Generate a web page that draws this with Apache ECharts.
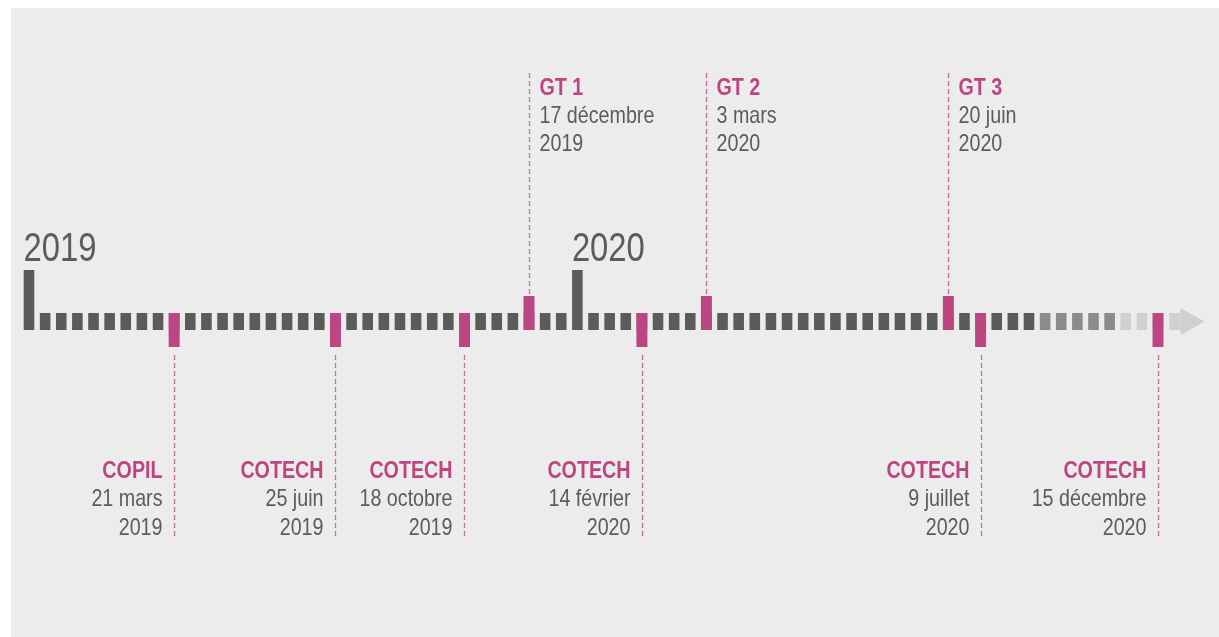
<!DOCTYPE html>
<html>
<head>
<meta charset="utf-8">
<script src="https://cdn.jsdelivr.net/npm/echarts@6/dist/echarts.min.js"></script>
<style>
html, body { margin: 0; padding: 0; background: #fff; }
#chart { position: absolute; left: 11px; top: 8px; width: 1208px; height: 629px; }
</style>
</head>
<body>
<div id="chart"></div>
<script>
// frise chronologique : une case par créneau (schématique, pas à l'échelle)
const slotCount = 71;
const years = ['2019', '2020'];
const yearSlots = [0, 34];
const fadeMidFrom = 63;
const fadeLightFrom = 68;
const arrowSlot = 71.4;

const eventTitles = ['COPIL', 'COTECH', 'COTECH', 'GT 1', 'COTECH', 'GT 2', 'GT 3', 'COTECH', 'COTECH'];
const eventDays = ['21 mars', '25 juin', '18 octobre', '17 décembre', '14 février', '3 mars', '20 juin', '9 juillet', '15 décembre'];
const eventYears = ['2019', '2019', '2019', '2019', '2020', '2020', '2020', '2020', '2020'];
const eventSlots = [9, 19, 27, 31, 38, 42, 57, 59, 70];
const eventAbove = [false, false, false, true, false, true, true, false, false];

// pas de police "narrow" installée : Liberation Sans compressée horizontalement
const FONT = '"Liberation Sans", Arial, sans-serif';
const NARROW = 0.82;
const PINK = '#bc4682';
const DARK = '#5b5b5b';
const MID = '#8b8b8b';
const LIGHT = '#d0d0d0';
const TEXT = '#5c5c5c';

const tickData = [];
for (let i = 0; i < slotCount; i++) {
    tickData.push([i, yearSlots.indexOf(i) >= 0 ? 1 : 0]);
}
tickData.push([arrowSlot, 2]);

const eventData = eventSlots.map((s, i) => [s, eventAbove[i] ? 1 : 0]);
const yearData = yearSlots.map((s) => [s, 0]);

function shadeOf(slot) {
    if (slot >= fadeLightFrom) return LIGHT;
    if (slot >= fadeMidFrom) return MID;
    return DARK;
}

function narrowText(text, x, y, align, fill, font) {
    return {
        type: 'text',
        x: x, y: y, scaleX: NARROW,
        style: { text: text, x: 0, y: 0, align: align, verticalAlign: 'middle', fill: fill, font: font }
    };
}

function renderTick(params, api) {
    const slot = api.value(0);
    const kind = api.value(1);
    const p = api.coord([slot, 0]);
    if (kind === 2) {
        // flèche finale
        const a = api.coord([slot - 0.7, 0]);
        return {
            type: 'group',
            children: [
                { type: 'rect', shape: { x: a[0], y: p[1] - 17, width: p[0] - a[0], height: 17 }, style: { fill: LIGHT } },
                { type: 'polygon', shape: { points: [[p[0], p[1] - 22], [p[0] + 24, p[1] - 8.5], [p[0], p[1] + 5]] }, style: { fill: LIGHT } }
            ]
        };
    }
    const h = kind === 1 ? 60 : 17;
    return {
        type: 'rect',
        shape: { x: p[0] - 5.3, y: p[1] - h, width: 10.6, height: h },
        style: { fill: kind === 1 ? DARK : shadeOf(slot) }
    };
}

function renderEvent(params, api) {
    const i = params.dataIndex;
    const above = api.value(1) === 1;
    const p = api.coord([api.value(0), 0]);
    const x = Math.round(p[0]) + 0.5;
    const y = p[1];
    const kids = [];
    if (above) {
        kids.push({ type: 'rect', shape: { x: p[0] - 5.5, y: y - 34, width: 11, height: 34 }, style: { fill: PINK } });
        kids.push({ type: 'line', shape: { x1: x, y1: y - 36, x2: x, y2: y - 258 }, style: { stroke: '#cf6d9b', lineWidth: 1.3, lineDash: [5, 3] } });
    } else {
        kids.push({ type: 'rect', shape: { x: p[0] - 5.5, y: y - 17, width: 11, height: 34 }, style: { fill: PINK } });
        kids.push({ type: 'line', shape: { x1: x, y1: y + 25, x2: x, y2: y + 207 }, style: { stroke: '#cf6d9b', lineWidth: 1.3, lineDash: [5, 3] } });
    }
    const tx = above ? x + 10 : x - 12;
    const align = above ? 'left' : 'right';
    const ys = above ? [-242, -213.7, -185.3] : [141, 169.5, 198];
    const lines = [eventTitles[i], eventDays[i], eventYears[i]];
    lines.forEach((t, k) => {
        kids.push(narrowText(t, tx, y + ys[k], align,
            k === 0 ? PINK : TEXT, (k === 0 ? 'bold ' : '') + '24px ' + FONT));
    });
    return { type: 'group', children: kids };
}

function renderYear(params, api) {
    const p = api.coord([api.value(0), 0]);
    return narrowText(years[params.dataIndex], p[0] - 5.5, p[1] - 80, 'left', TEXT, '40px ' + FONT);
}

const chart = echarts.init(document.getElementById('chart'));
chart.setOption({
    backgroundColor: '#ececec',
    animation: false,
    grid: { left: 18, width: 1177.4, top: 0, bottom: 0 },
    xAxis: { type: 'value', min: 0, max: 73, show: false },
    yAxis: { type: 'value', min: -307, max: 322, show: false },
    series: [
        { type: 'custom', renderItem: renderTick, data: tickData, z: 2 },
        { type: 'custom', renderItem: renderEvent, data: eventData, z: 3 },
        { type: 'custom', renderItem: renderYear, data: yearData, z: 3 }
    ]
});
</script>
</body>
</html>
